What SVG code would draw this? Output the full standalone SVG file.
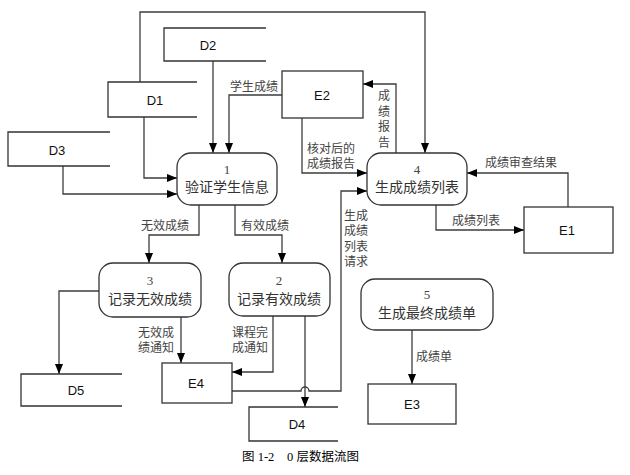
<svg xmlns="http://www.w3.org/2000/svg" width="630" height="475" viewBox="0 0 630 475">
<defs>
<marker id="ah" viewBox="0 0 10 8" refX="10" refY="4" markerWidth="10" markerHeight="8" markerUnits="userSpaceOnUse" orient="auto">
<path d="M0,0 L10,4 L0,8 Z" fill="#000"/>
</marker>
</defs>
<style>
.box{fill:#fff;stroke:#333;stroke-width:1.3}
.store{fill:none;stroke:#333;stroke-width:1.3}
.proc{fill:#fff;stroke:#333;stroke-width:1.3}
.conn path{fill:none;stroke:#3c3c3c;stroke-width:1.3}
.arr{marker-end:url(#ah)}
.nl{font-family:"Liberation Sans",Arial,sans-serif;font-size:13px;fill:#111;text-anchor:middle}
.pn{font-family:"Liberation Serif","Noto Sans CJK SC",serif;font-size:13px;fill:#444;text-anchor:middle}
.pt{font-family:"Liberation Serif","Noto Sans CJK SC",serif;font-size:14px;fill:#333;text-anchor:middle}
.lb{font-family:"Liberation Serif","Noto Sans CJK SC",serif;font-size:12px;fill:#444}
.lbc{font-family:"Liberation Serif","Noto Sans CJK SC",serif;font-size:12px;fill:#444;text-anchor:middle}
.cap{font-family:"Liberation Serif","Noto Sans CJK SC",serif;font-size:12.5px;fill:#000}
</style>
<rect width="630" height="475" fill="#fff"/>

<g class="conn" id="connectors">
<path class="arr" d="M140,82 V12 H425 V153"/>
<path class="arr" d="M213,61 V153"/>
<path class="arr" d="M282,95 H229 V153"/>
<path class="arr" d="M144,117 V178 H177"/>
<path class="arr" d="M63,166 V194 H177"/>
<path class="arr" d="M199,205 V235 H149 V263"/>
<path class="arr" d="M235,205 V235 H282 V263"/>
<path class="arr" d="M99,291 H59 V374"/>
<path class="arr" d="M181,317 V363"/>
<path class="arr" d="M273,316 V372 H232"/>
<path class="arr" d="M305,316 V407"/>
<path class="arr" d="M232,391 H301 A4,4 0 0 1 309,391 H341 V191 H367"/>
<path class="arr" d="M396,153 V84 H363"/>
<path class="arr" d="M302,118 V173 H367"/>
<path class="arr" d="M568,207 V173 H467"/>
<path class="arr" d="M436,205 V230 H524"/>
<path class="arr" d="M412,330 V384"/>
</g>

<g id="labels">
<text class="lb" x="230" y="91">学生成绩</text>
<text class="lb" x="141" y="230">无效成绩</text>
<text class="lb" x="241" y="230">有效成绩</text>
<text class="lb" x="138" y="337">无效成</text>
<text class="lb" x="138" y="352">绩通知</text>
<text class="lb" x="232" y="337">课程完</text>
<text class="lb" x="232" y="352">成通知</text>
<text class="lbc" x="384" y="100">成</text>
<text class="lbc" x="384" y="116">绩</text>
<text class="lbc" x="384" y="131">报</text>
<text class="lbc" x="384" y="147">告</text>
<text class="lb" x="307" y="153">核对后的</text>
<text class="lb" x="307" y="168">成绩报告</text>
<text class="lb" x="485" y="167">成绩审查结果</text>
<text class="lb" x="452" y="225">成绩列表</text>
<text class="lb" x="344" y="220">生成</text>
<text class="lb" x="344" y="235">成绩</text>
<text class="lb" x="344" y="251">列表</text>
<text class="lb" x="344" y="266">请求</text>
<text class="lb" x="416" y="361">成绩单</text>
</g>

<g id="D1"><path class="store" d="M197,82 H108 V117 H197"/><text class="nl" x="155" y="105">D1</text></g>
<g id="D2"><path class="store" d="M266,28 H164 V61 H266"/><text class="nl" x="208" y="50">D2</text></g>
<g id="D3"><path class="store" d="M110,132 H8 V166 H110"/><text class="nl" x="57" y="155">D3</text></g>
<g id="D4"><path class="store" d="M338,407 H249 V441 H338"/><text class="nl" x="297" y="429">D4</text></g>
<g id="D5"><path class="store" d="M122,374 H21 V406 H122"/><text class="nl" x="76" y="395">D5</text></g>

<g id="E1"><rect class="box" x="524" y="207" width="89" height="46"/><text class="nl" x="567" y="235">E1</text></g>
<g id="E2"><rect class="box" x="282" y="71" width="81" height="47"/><text class="nl" x="322" y="100">E2</text></g>
<g id="E3"><rect class="box" x="368" y="384" width="88" height="40"/><text class="nl" x="412" y="409">E3</text></g>
<g id="E4"><rect class="box" x="162" y="363" width="70" height="40"/><text class="nl" x="196" y="388">E4</text></g>

<g id="P1"><rect class="proc" x="177" y="153" width="100" height="52" rx="14"/><text class="pn" x="227" y="174">1</text><text class="pt" x="227" y="192">验证学生信息</text></g>
<g id="P2"><rect class="proc" x="229" y="263" width="101" height="53" rx="14"/><text class="pn" x="279" y="285">2</text><text class="pt" x="279" y="304">记录有效成绩</text></g>
<g id="P3"><rect class="proc" x="99" y="263" width="102" height="54" rx="14"/><text class="pn" x="150" y="285">3</text><text class="pt" x="150" y="304">记录无效成绩</text></g>
<g id="P4"><rect class="proc" x="367" y="153" width="100" height="52" rx="14"/><text class="pn" x="417" y="174">4</text><text class="pt" x="417" y="192">生成成绩列表</text></g>
<g id="P5"><rect class="proc" x="361" y="279" width="132" height="51" rx="14"/><text class="pn" x="427" y="299">5</text><text class="pt" x="427" y="318">生成最终成绩单</text></g>

<g id="caption">
<text class="cap" x="242" y="461">图 1-2</text>
<text class="cap" x="287" y="461">0 层数据流图</text>
</g>
</svg>
